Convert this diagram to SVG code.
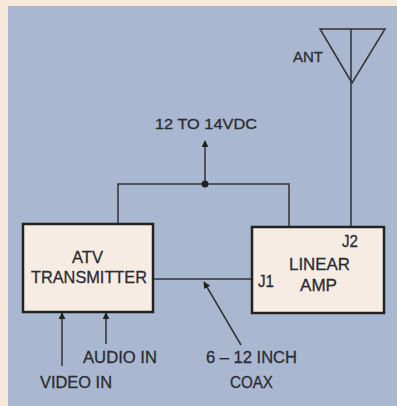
<svg xmlns="http://www.w3.org/2000/svg" width="397" height="406" viewBox="0 0 397 406">
<defs>
<style>
.t{font-family:"Liberation Sans",Arial,sans-serif;font-size:17px;fill:#2b2b30;stroke:#2b2b30;stroke-width:0.3;}
.s{font-size:15.5px;}
.box{fill:#f6ece4;stroke:#222;stroke-width:2.5;}
.ln{fill:none;stroke:#333;stroke-width:1.5;}
</style>
<marker id="ah" viewBox="0 0 10 10" refX="9" refY="5" markerWidth="7" markerHeight="7" markerUnits="userSpaceOnUse" orient="auto"><path d="M0,0 L10,5 L0,10 z" fill="#222"/></marker>
</defs>
<rect x="0" y="0" width="397" height="406" fill="#f7e9da"/>
<rect x="8" y="6" width="389" height="400" fill="#a9b8d0"/>
<g id="connectors">
<line class="ln" x1="205" y1="184" x2="205" y2="141" marker-end="url(#ah)"/>
<polyline class="ln" points="118,224 118,184 289,184 289,227"/>
<circle cx="205" cy="184" r="3.5" fill="#222"/>
<line class="ln" x1="351" y1="29" x2="351" y2="227"/>
<line class="ln" x1="153" y1="279" x2="252" y2="279"/>
<line class="ln" x1="241" y1="345" x2="204" y2="282" marker-end="url(#ah)"/>
<line class="ln" x1="62" y1="366" x2="62" y2="313" marker-end="url(#ah)"/>
<line class="ln" x1="106" y1="344" x2="106" y2="313" marker-end="url(#ah)"/>
</g>
<g id="antenna">
<polygon points="320,29 385,29 352,83" fill="none" stroke="#333" stroke-width="1.5"/>
<text class="t s" x="293" y="62" textLength="30" lengthAdjust="spacingAndGlyphs">ANT</text>
</g>
<g id="power">
<text class="t s" x="155" y="129" textLength="102" lengthAdjust="spacingAndGlyphs">12 TO 14VDC</text>
</g>
<g id="atv">
<rect class="box" x="23" y="224" width="130" height="88"/>
<text class="t" x="72" y="263" textLength="31" lengthAdjust="spacingAndGlyphs">ATV</text>
<text class="t" x="31" y="283" textLength="116" lengthAdjust="spacingAndGlyphs">TRANSMITTER</text>
</g>
<g id="amp">
<rect class="box" x="252" y="227" width="132" height="86"/>
<text class="t" x="342" y="247" textLength="16" lengthAdjust="spacingAndGlyphs">J2</text>
<text class="t" x="289" y="270" textLength="61" lengthAdjust="spacingAndGlyphs">LINEAR</text>
<text class="t" x="300" y="291" textLength="37" lengthAdjust="spacingAndGlyphs">AMP</text>
<text class="t" x="258" y="287" textLength="16" lengthAdjust="spacingAndGlyphs">J1</text>
</g>
<g id="labels">
<text class="t" x="83" y="363" textLength="74" lengthAdjust="spacingAndGlyphs">AUDIO IN</text>
<text class="t" x="40" y="388" textLength="72" lengthAdjust="spacingAndGlyphs">VIDEO IN</text>
<text class="t" x="206" y="363" textLength="91" lengthAdjust="spacingAndGlyphs">6 – 12 INCH</text>
<text class="t" x="230" y="388" textLength="43" lengthAdjust="spacingAndGlyphs">COAX</text>
</g>
</svg>
